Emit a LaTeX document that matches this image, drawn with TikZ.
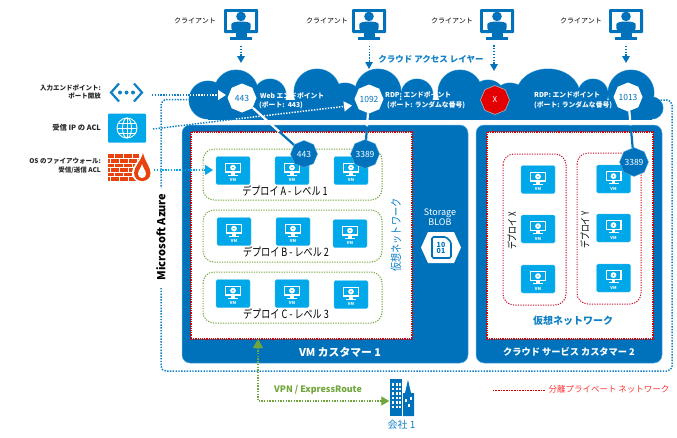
\documentclass[tikz,border=0pt]{standalone}
\usepackage{fontspec}
\setmainfont{Noto Sans CJK JP}
\newfontfamily\narrowjp[FakeStretch=0.79]{Noto Sans CJK JP}
\usetikzlibrary{arrows.meta,calc,shapes.geometric}
\definecolor{az}{HTML}{0072BC}
\definecolor{azd}{HTML}{1080C6}
\definecolor{sky}{HTML}{00A8EA}
\definecolor{edge}{HTML}{5AAEDD}
\definecolor{grn}{HTML}{6FA53A}
\definecolor{rd}{HTML}{C8102E}
\definecolor{fire}{HTML}{E8430F}
\pgfdeclarelayer{top}
\pgfsetlayers{main,top}
\newcommand\fs[1]{\fontsize{#1}{#1}\selectfont}
\tikzset{
 x=1pt,y=-1pt,
 txt/.style={inner sep=0pt,font=\fs{7}},
 lab/.style={inner sep=0pt,font=\fs{6.5}\bfseries,align=right,anchor=east,text=black!85},
 wlab/.style={inner sep=0pt,font=\fs{6.8}\bfseries,align=left,anchor=west,text=white},
 depl/.style={inner sep=0pt,font=\narrowjp\fs{11.5}},
 oct/.style={regular polygon,regular polygon sides=8,shape border rotate=22.5,inner sep=0pt,minimum size=29pt,font=\fs{8.5}},
 octw/.style={oct,fill=white,text=az},
 octd/.style={oct,fill=az,text=white,draw=edge,line width=.4pt,minimum size=27pt},
 vmbox/.style={rectangle,fill=sky,draw=sky!70,line width=.3pt,rounded corners=1.5pt,minimum width=34pt,minimum height=28pt,inner sep=0pt},
 grp/.style={draw=grn,line width=1pt,dash pattern=on 1.2pt off 1.3pt,rounded corners=11pt},
 redgrp/.style={draw=rd,line width=1pt,dash pattern=on 1.2pt off 1.3pt,rounded corners=11pt},
 netbox/.style={fill=white,draw=red!85!black,line width=1.1pt,dash pattern=on 1.2pt off 1pt},
 custbox/.style={fill=az,draw=edge,line width=.5pt,rounded corners=8pt},
 dots/.style={draw=azd,line width=1.5pt,dash pattern=on 1.4pt off 1.4pt},
 wdots/.style={draw=white,line width=1.5pt,dash pattern=on 1.4pt off 1.4pt},
 carrow/.style={draw=az,line width=1.6pt,dash pattern=on 1.5pt off 1.4pt,-{Triangle[length=7pt,width=7.5pt,sharp]}},
 conn/.style={line width=2.2pt},
 vmglyph/.pic={
  \fill[white] (-8,-8) rectangle (8,2);
  \fill[sky] (-6.6,-6.6) rectangle (6.6,.8);
  \fill[white] (0,-2.9) circle (2.9);
  \fill[sky] (0,-2.9) circle (.8);
  \fill[white] (-1.8,2) rectangle (1.8,4.4);
  \fill[white] (-5,4.2) rectangle (5,5.4);
  \node[inner sep=0pt,text=white,font=\fs{4}\bfseries] (-t) at (0,9.8) {VM};
 },
 clientglyph/.pic={
  \fill[az,rounded corners=1pt] (-17,-16) rectangle (17,8);
  \fill[white] (-14.3,-13.3) rectangle (14.3,5.3);
  \fill[az] (0,-8.6) circle (4.8);
  \fill[az,rounded corners=2pt] (-9.6,5.3) -- (-9.6,1) .. controls (-9.6,-2.4) and (-5,-3.4) .. (0,-3.4) .. controls (5,-3.4) and (9.6,-2.4) .. (9.6,1) -- (9.6,5.3) -- cycle;
  \fill[az] (-5.5,5) rectangle (5.5,13);
  \fill[az] (-11,12.4) rectangle (11,15);
 }
}
\newcommand\vmat[3]{\node[vmbox] (#1) at (#2,#3) {};\pic (#1g) at (#2,#3) {vmglyph};}
\newcommand\client[4]{\node[minimum width=34pt,minimum height=31pt,inner sep=0pt] (#1) at (#2,#3) {};\pic (#1g) at (#2,#3) {clientglyph};\node[txt,text=black] (#1t) at (#4,21) {クライアント};}
\begin{document}
\begin{tikzpicture}
\useasboundingbox (0,0) rectangle (677,437);
% outer azure boundary
\coordinate (azA) at (190,99.5);
\coordinate (azB) at (161,188);
\coordinate (azC) at (161,288);
\coordinate (azD) at (660,100);
\draw[dots,rounded corners=6pt] (azA) -- (161,99.5) -- (azB);
\draw[dots,rounded corners=5pt] (azC) -- (161,371) -- (672,371) -- (672,100) -- (azD);
% customer boxes
\path[custbox] (182,125) rectangle (468,363);
\path[custbox] (476,125) rectangle (662,363);
\node[rectangle,netbox,minimum width=221pt,minimum height=207pt,inner sep=0pt] (netA) at (301.5,235.5) {};
\node[rectangle,netbox,minimum width=166pt,minimum height=207pt,inner sep=0pt] (netB) at (570,235.5) {};
% cloud
\begin{scope}
\clip (180,60) rectangle (670,119.4);
\foreach \cx/\cy/\r in {208/100/19,236/92/22,270/95/16,317/92/23,345/100/17,378/92/23,417/95/16,460/92/22,488/97/17,510/100/17,593/94/15,631/93/23,652/108/11}{
  \draw[edge,line width=1pt] (\cx,\cy) circle (\r);}
\draw[edge,line width=1pt] (548,95) ellipse (32 and 26);
\foreach \cx/\cy/\r in {208/100/19,236/92/22,270/95/16,317/92/23,345/100/17,378/92/23,417/95/16,460/92/22,488/97/17,510/100/17,593/94/15,631/93/23,652/108/11}{
  \fill[az] (\cx,\cy) circle (\r);}
\fill[az] (548,95) ellipse (32 and 26);
\fill[az] (208,100) rectangle (652,120);
\end{scope}
\node[inner sep=0pt,text=azd,font=\fs{8.5}\bfseries] (lay) at (431,59) {クラウド アクセス レイヤー};
% clients
\client{c1}{241}{25}{195}
\client{c2}{369}{25}{327}
\client{c3}{497}{25}{452}
\client{c4}{626}{25}{581}
\coordinate (t1) at (241,63);\coordinate (t2) at (369,69);\coordinate (t3) at (494,71);\coordinate (t4) at (626,63);
\draw[carrow] ($(c1.south)+(0,5)$) -- (t1);
\draw[carrow,line width=1pt] ($(c2.south)+(0,5)$) -- (t2);
\draw[carrow] (494,45) -- (t3);
\draw[carrow] ($(c4.south)+(0,5)$) -- (t4);
% octagons
\begin{pgfonlayer}{top}
\node[octw] (p443) at (242,98) {443};
\node[octw] (p1092) at (369,99) {1092};
\node[oct,fill=red!90!black,draw=black!30,line width=.6pt,text=white,font=\fs{8}] (pX) at (495,100) {X};
\node[octw] (p1013) at (628,97) {1013};
\node[octd] (d443) at (304,154) {443};
\node[octd] (d3389a) at (365,154) {3389};
\node[octd] (d3389b) at (634,162) {3389};
\end{pgfonlayer}
\coordinate (m1) at ($(p443)!.6!(d443)$);
\coordinate (m2) at ($(p1092)!.5!(d3389a)$);
\coordinate (m3) at ($(p1013)!.44!(d3389b)$);
\draw[conn,white] (p443) -- (m1);
\draw[conn,az] (m1) -- (d443);
\draw[conn,white] (p1092) -- (m2);
\draw[conn,az] (m2) -- (d3389a);
\draw[conn,white] (p1013) -- (m3);
\draw[conn,az] (m3) -- (d3389b);
% cloud texts
\node[wlab] (tw) at (260,96) {Web エンドポイント};
\node[wlab] (tw2) at (259,105) {(ポート:\ \ 443)};
\node[wlab] (tr) at (385,95) {RDP: エンドポイント};
\node[wlab] (tr2) at (387,105) {(ポート: ランダムな番号)};
\node[wlab] (ts) at (534,95) {RDP: エンドポイント};
\node[wlab] (ts2) at (534,105) {(ポート: ランダムな番号)};
% left labels
\node[lab] (l1) at (101,92) {入力エンドポイント:\\[2pt]ポート開放};
\node[lab,font=\fs{7.3}\bfseries] (l2) at (101,128) {受信 IP の ACL};
\node[lab] (l3) at (101,166) {OS のファイアウォール:\\[2pt]受信/送信 ACL};
% endpoint icon
\node[minimum width=34pt,minimum height=20pt,inner sep=0pt] (ico1) at (126,92.5) {};
\draw[azd,line width=2.2pt] (119,83.5) -- (111,92.5) -- (119,101.5);
\draw[azd,line width=2.2pt] (134,83.5) -- (142,92.5) -- (134,101.5);
\foreach \q in {120,126.5,133}{\fill[azd] (\q,92.5) circle (2);}
% globe icon
\node[rectangle,fill=sky,rounded corners=1pt,minimum width=38pt,minimum height=29pt,inner sep=0pt] (ico2) at (127,128) {};
\begin{scope}[white,line width=.9pt]
\draw (127,128) circle (10);
\draw (127,128) ellipse (4.5 and 10);
\draw (127,118) -- (127,138);
\draw (117,128) -- (137,128);
\draw (118.5,123) -- (135.5,123);
\draw (118.5,133) -- (135.5,133);
\end{scope}
% firewall icon
\node[rectangle,minimum width=43pt,minimum height=28pt,inner sep=0pt] (ico3) at (128.5,167) {};
\fill[fire] (107.5,154) rectangle (139,180.5);
\foreach \yy in {158.5,163,167.5,172,176.5}{\draw[white,line width=.8pt] (107.5,\yy) -- (139,\yy);}
\foreach \xx in {114,123,132}{
 \draw[white,line width=.8pt] (\xx,154) -- (\xx,158.5);
 \draw[white,line width=.8pt] (\xx,163) -- (\xx,167.5);
 \draw[white,line width=.8pt] (\xx,172) -- (\xx,176.5);}
\foreach \xx in {110,119,128,137}{
 \draw[white,line width=.8pt] (\xx,158.5) -- (\xx,163);
 \draw[white,line width=.8pt] (\xx,167.5) -- (\xx,172);
 \draw[white,line width=.8pt] (\xx,176.5) -- (\xx,180.5);}
\fill[white] (143,151) .. controls (140,160) and (132,166) .. (132,173) .. controls (132,179) and (137,182.5) .. (142,182.5) .. controls (147,182.5) and (152,179) .. (152,173) .. controls (152,166) and (145,162) .. (143,151) -- cycle;
\fill[fire] (143,153) .. controls (141,161) and (134,167) .. (134,173) .. controls (134,178) and (138,181) .. (142,181) .. controls (147,181) and (150.5,178) .. (150.5,173) .. controls (150.5,167) and (145,162) .. (143,153) -- cycle;
\fill[white] (142,164) .. controls (141,168) and (138,171) .. (138,174) .. controls (138,176.5) and (140,178) .. (142,178) .. controls (144,178) and (146,176.5) .. (146,174) .. controls (146,171) and (143,168) .. (142,164) -- cycle;
% dotted feeds
\coordinate (f1a) at (152,95);\coordinate (f1b) at (190,95);\coordinate (f1c) at (226,95);
\draw[dots] (f1a) -- (f1b);
\draw[wdots,-{Triangle[length=8pt,width=10pt,sharp]}] (f1b) -- (f1c);
\coordinate (f2a) at (153,129);\coordinate (f2b) at (236,119);\coordinate (f2c) at (352,105.5);
\draw[dots] (f2a) -- (f2b);
\draw[wdots,-{Triangle[length=8pt,width=10pt,sharp]}] (f2b) -- (f2c);
\coordinate (f3a) at (154,170);\coordinate (f3b) at (213,170);
\draw[dots,draw=sky,-{Triangle[length=8pt,width=10pt,sharp,fill=sky]}] (f3a) -- (f3b);
% green groups
\draw[grp] (203,149) rectangle (382,200);
\draw[grp] (203,210) rectangle (382,262);
\draw[grp] (203,272) rectangle (382,323);
\vmat{a1}{233}{170.5}\vmat{a2}{292}{170.5}\vmat{a3}{351}{170.5}
\vmat{b1}{234}{231.5}\vmat{b2}{293}{231.5}\vmat{b3}{350}{233.5}
\vmat{v1}{233}{293.5}\vmat{v2}{292}{293.5}\vmat{v3}{351}{294.5}
\node[depl] (da) at (285,191) {デプロイ A - レベル 1};
\node[depl] (db) at (286,252) {デプロイ B - レベル 2};
\node[depl] (dc) at (286,314) {デプロイ C - レベル 3};
\node[inner sep=0pt,rotate=90,text=azd,font=\narrowjp\fs{11.5}] (vn1) at (396,235) {仮想ネットワーク};
% storage
\node[inner sep=0pt,align=center,text=white,font=\fs{9}] (stg) at (440,217) {Storage\\[.5pt]BLOB};
\fill[white] (421,247.5) -- (428,232) -- (454,232) -- (461,247.5) -- (454,263) -- (428,263) -- cycle;
\draw[az,line width=1.6pt,rounded corners=1.5pt] (432,237) -- (446,237) -- (451,242) -- (451,258) -- (432,258) -- cycle;
\node[inner sep=0pt,align=center,text=az,font=\fs{7}\bfseries] (bits) at (441,248) {10\\[-.5pt]01};
% right groups
\draw[redgrp] (503,154) rectangle (566,305);
\draw[redgrp] (577,153) rectangle (641,304);
\vmat{x1}{538}{179.5}\vmat{x2}{538}{229}\vmat{x3}{538}{279}
\vmat{y1}{613.5}{179}\vmat{y2}{613.5}{228}\vmat{y3}{613.5}{278}
\node[inner sep=0pt,rotate=90,font=\narrowjp\fs{10}] (dx) at (512,231) {デプロイ X};
\node[inner sep=0pt,rotate=90,font=\narrowjp\fs{10}] (dy) at (585,230) {デプロイ Y};
\node[inner sep=0pt,text=azd,font=\fs{10}\bfseries] (vn2) at (573,321) {仮想ネットワーク};
\node[inner sep=0pt,text=white,font=\fs{10.8}\bfseries] (cA) at (340,352) {VM カスタマー 1};
\node[inner sep=0pt,text=white,font=\fs{9.2}\bfseries] (cB) at (569,352) {クラウド サービス カスタマー 2};
\node[inner sep=0pt,rotate=90,font=\fs{11}\bfseries] (ms) at (161,237) {Microsoft Azure};
% company
\node[rectangle,minimum width=25pt,minimum height=37pt,inner sep=0pt] (corp) at (402,397.5) {};
\fill[az] (390,379) rectangle (402,416);
\fill[az] (403,416) -- (403,393) -- (405,393) -- (408,380) -- (411,393) -- (414,393) -- (414,416) -- cycle;
\foreach \yy in {383,387.5,392,396.5,401,405.5}{\foreach \xx in {392,395.5,399}{\fill[white] (\xx,\yy) rectangle +(2,2.5);}}
\foreach \xx/\yy in {405/399,410/397,408/404}{\fill[white] (\xx,\yy) rectangle +(2,2.5);}
\node[inner sep=0pt,text=azd,font=\fs{10}] (corpt) at (401.5,425) {会社 1};
% VPN
\coordinate (vp) at (258,339);\coordinate (vq) at (258,401);
\draw[grn,line width=1.3pt,dash pattern=on 1.4pt off 1.3pt,{Triangle[length=9pt,width=10pt,sharp,fill=grn]}-{Triangle[length=8pt,width=9pt,sharp,fill=grn]}] (vp) -- (vq) -- (corp.west |- vq);
\node[inner sep=0pt,text=grn,font=\fs{8.9}\bfseries] (vpnt) at (318,390) {VPN / ExpressRoute};
% legend
\coordinate (la) at (493,390.5);\coordinate (lb) at (545,390.5);
\draw[red!85!black,line width=.8pt,dash pattern=on .9pt off .7pt] (la) -- (lb);
\node[inner sep=0pt,text=red!80,font=\fs{8.5}] (lt) at (609,389) {分離プライベート ネットワーク};
\end{tikzpicture}
\end{document}
